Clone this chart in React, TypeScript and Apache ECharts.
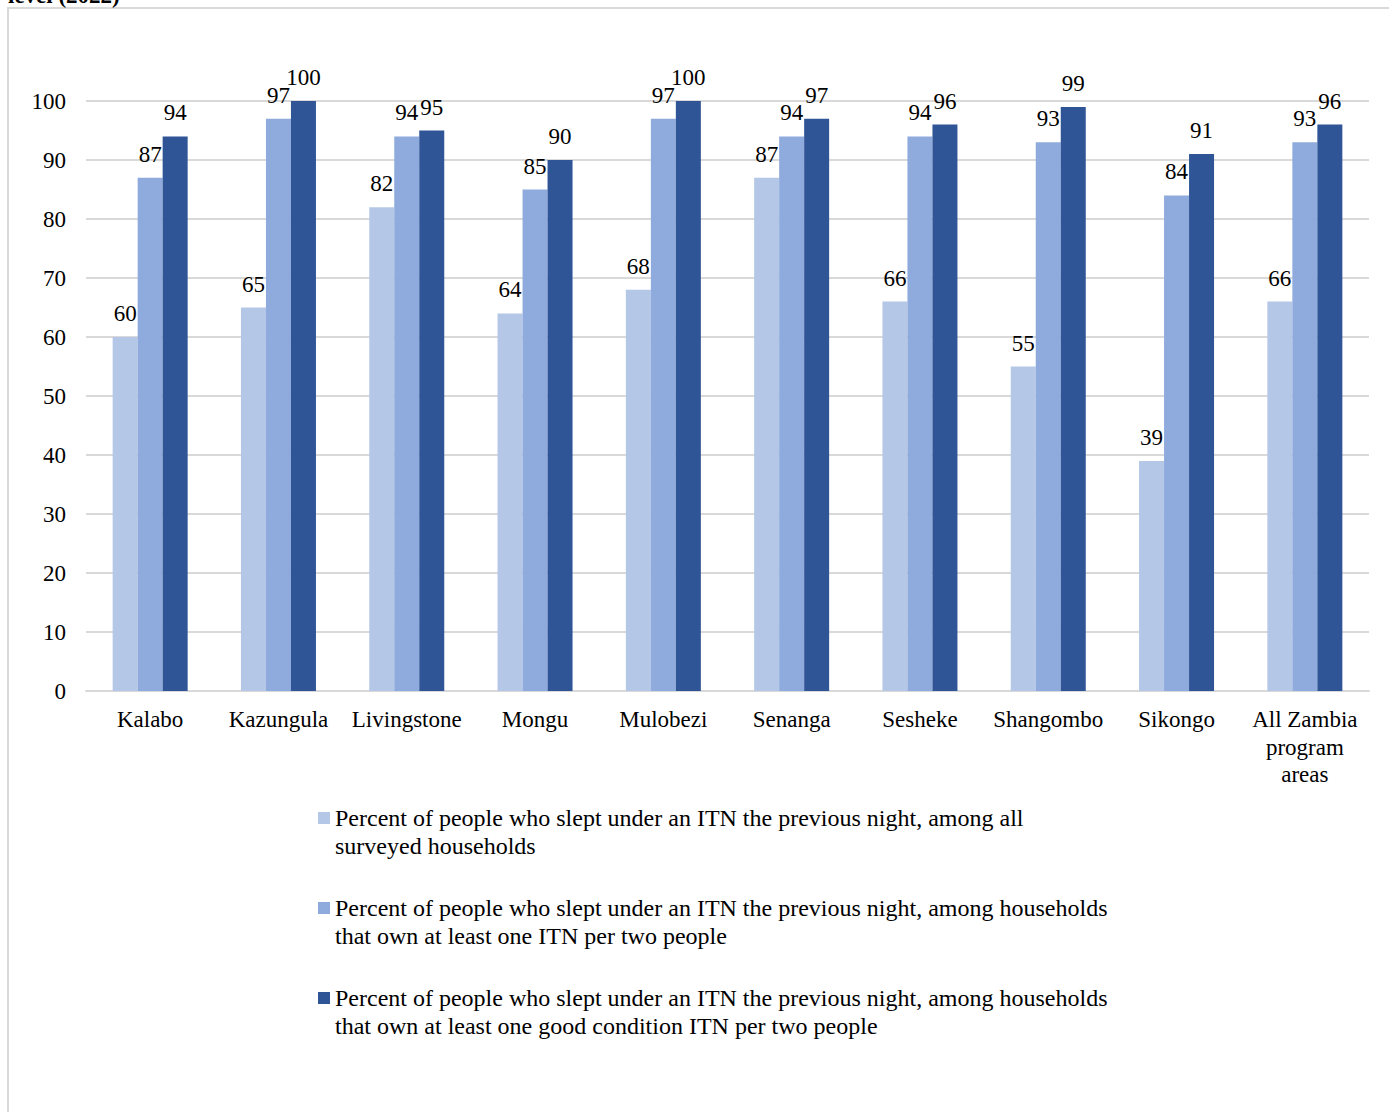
import React, { useEffect, useRef } from "react";
import * as echarts from "echarts";

// Districts shown along the category axis
const districts = [
  "Kalabo",
  "Kazungula",
  "Livingstone",
  "Mongu",
  "Mulobezi",
  "Senanga",
  "Sesheke",
  "Shangombo",
  "Sikongo",
  "All Zambia\nprogram\nareas",
];

// Series names (legend text, wrapped over two lines)
const nameAllHouseholds =
  "Percent of people who slept under an ITN the previous night, among all\nsurveyed households";
const nameOnePerTwo =
  "Percent of people who slept under an ITN the previous night, among households\nthat own at least one ITN per two people";
const nameGoodPerTwo =
  "Percent of people who slept under an ITN the previous night, among households\nthat own at least one good condition ITN per two people";

// Percent values per district
const allHouseholds = [60, 65, 82, 64, 68, 87, 66, 55, 39, 66];
const onePerTwo = [87, 97, 94, 85, 97, 94, 94, 93, 84, 93];
const goodPerTwo = [94, 100, 95, 90, 100, 97, 96, 99, 91, 96];

// Value axis settings
const yMin = 0;
const yMax = 100;
const yStep = 10;

const headingText = "level (2022)";

const FONT = '"Liberation Serif", "Times New Roman", serif';
const GRID_GREY = "#d9d9d9";
const COLORS = ["#B4C7E7", "#8FAADC", "#2F5597"];

export default function App() {
  const ref = useRef<HTMLDivElement>(null);

  useEffect(() => {
    if (!ref.current) return;
    const chart = echarts.init(ref.current, null, { renderer: "svg" });

    const label = {
      show: true,
      position: "top" as const,
      distance: 12,
      color: "#000",
      fontFamily: FONT,
      fontSize: 23,
    };

    const makeSeries = (name: string, data: number[], color: string) => ({
      name,
      type: "bar" as const,
      data,
      barWidth: 25,
      barGap: "0%",
      itemStyle: { color },
      label,
    });

    chart.setOption({
      animation: false,
      textStyle: { fontFamily: FONT },
      color: COLORS,
      graphic: [
        {
          type: "rect",
          shape: { x: 8, y: 8, width: 1500, height: 1300 },
          style: { fill: "none", stroke: GRID_GREY, lineWidth: 2 },
          silent: true,
        },
        {
          type: "text",
          x: 8,
          y: 7,
          style: {
            text: headingText,
            font: `bold 23px ${FONT}`,
            fill: "#000",
            verticalAlign: "bottom",
          },
          silent: true,
        },
      ],
      grid: { left: 86, right: 20, top: 101, bottom: 421, containLabel: false },
      legend: {
        orient: "vertical",
        left: 318,
        top: 776,
        padding: 0,
        itemWidth: 12,
        itemHeight: 12,
        itemGap: 6,
        icon: "rect",
        selectedMode: false,
        formatter: (name: string) => "\n" + name,
        textStyle: {
          fontFamily: FONT,
          fontSize: 24,
          lineHeight: 28,
          color: "#000",
        },
        data: [nameAllHouseholds, nameOnePerTwo, nameGoodPerTwo],
      },
      xAxis: {
        type: "category",
        data: districts,
        axisLine: { show: true, lineStyle: { color: GRID_GREY, width: 2 } },
        axisTick: { show: false },
        axisLabel: {
          interval: 0,
          margin: 15,
          color: "#000",
          fontFamily: FONT,
          fontSize: 23,
          lineHeight: 27.5,
        },
      },
      yAxis: {
        type: "value",
        min: yMin,
        max: yMax,
        interval: yStep,
        axisLine: { show: false },
        axisTick: { show: false },
        splitLine: { lineStyle: { color: GRID_GREY, width: 2 } },
        axisLabel: {
          margin: 20,
          color: "#000",
          fontFamily: FONT,
          fontSize: 23,
        },
      },
      series: [
        makeSeries(nameAllHouseholds, allHouseholds, COLORS[0]),
        makeSeries(nameOnePerTwo, onePerTwo, COLORS[1]),
        makeSeries(nameGoodPerTwo, goodPerTwo, COLORS[2]),
      ],
    });

    return () => chart.dispose();
  }, []);

  return (
    <div
      ref={ref}
      style={{
        position: "absolute",
        left: 0,
        top: 0,
        width: 1389,
        height: 1112,
        background: "#fff",
      }}
    />
  );
}
